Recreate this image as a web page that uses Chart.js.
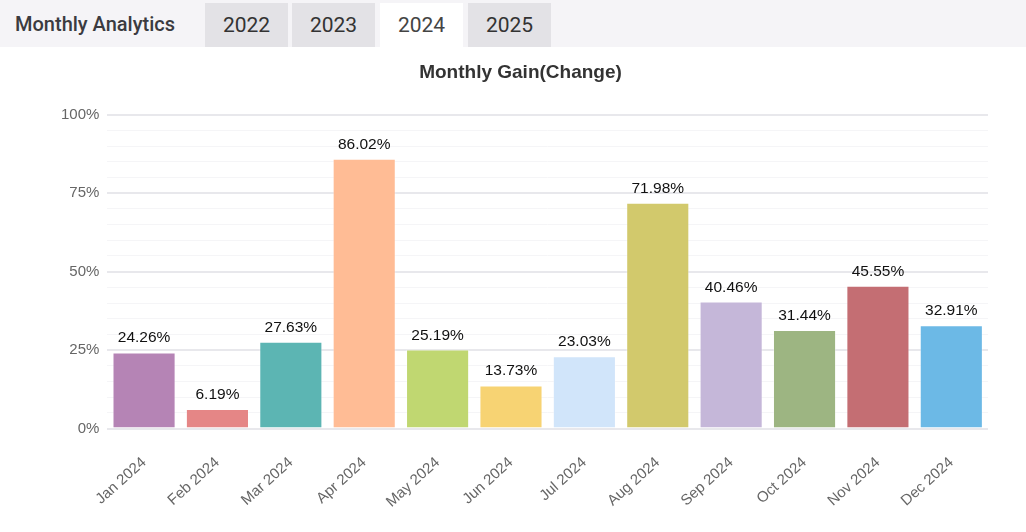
<!DOCTYPE html>
<html>
<head>
<meta charset="utf-8">
<script src="https://cdn.jsdelivr.net/npm/chart.js@4.4.1/dist/chart.umd.min.js"></script>
<style>
  body { margin: 0; background: #fff; font-family: Roboto, "Liberation Sans", Arial, sans-serif; }
  .head { height: 47px; background: #f5f4f7; position: relative; }
  .head .name { position: absolute; left: 15px; top: 12px; font-size: 20px; font-weight: 500; color: #3b3b40; }
  .tab { position: absolute; top: 3px; height: 44px; width: 83px; background: #e3e2e6;
         font-size: 21px; color: #333; text-align: center; line-height: 44px; }
  .tab.on { background: #fff; color: #444; }
  .box { position: relative; width: 1026px; height: 485px; }
</style>
</head>
<body>
<div class="head">
  <div class="name">Monthly Analytics</div>
  <div class="tab" style="left:205px">2022</div>
  <div class="tab" style="left:292px">2023</div>
  <div class="tab on" style="left:380px">2024</div>
  <div class="tab" style="left:468px">2025</div>
</div>
<div class="box"><canvas id="chart"></canvas></div>
<script>
const months = ['Jan 2024', 'Feb 2024', 'Mar 2024', 'Apr 2024', 'May 2024', 'Jun 2024',
  'Jul 2024', 'Aug 2024', 'Sep 2024', 'Oct 2024', 'Nov 2024', 'Dec 2024'];
const gains = [24.26, 6.19, 27.63, 86.02, 25.19, 13.73, 23.03, 71.98, 40.46, 31.44, 45.55, 32.91];
const barColors = ['#b584b5', '#e58686', '#5cb5b3', '#ffbc95', '#c0d771', '#f7d373',
  '#d1e5fa', '#d2c96c', '#c5b7d9', '#9db582', '#c46e73', '#6cb9e6'];

const fontFamily = '"Liberation Sans", Arial, sans-serif';

// labels above each bar
const valueLabels = {
  id: 'valueLabels',
  afterDatasetsDraw(chart) {
    const ctx = chart.ctx;
    const meta = chart.getDatasetMeta(0);
    ctx.save();
    ctx.font = '15.5px ' + fontFamily;
    ctx.fillStyle = '#111';
    ctx.textAlign = 'center';
    ctx.textBaseline = 'alphabetic';
    meta.data.forEach((bar, i) => {
      ctx.fillText(gains[i].toFixed(2) + '%', bar.x, bar.y - 10);
    });
    ctx.restore();
  }
};

new Chart(document.getElementById('chart'), {
  type: 'bar',
  data: {
    labels: months,
    datasets: [{
      data: gains,
      backgroundColor: barColors,
      borderColor: 'rgba(255,255,255,0.35)',
      borderWidth: 1,
      barPercentage: 0.86,
      categoryPercentage: 1
    }]
  },
  options: {
    responsive: true,
    maintainAspectRatio: false,
    animation: false,
    layout: { padding: { left: 53, right: 38, top: 8, bottom: 4 } },
    plugins: {
      legend: { display: false },
      tooltip: { enabled: false },
      title: {
        display: true,
        text: 'Monthly Gain(Change)',
        color: '#333',
        font: { family: fontFamily, size: 19, weight: 'bold' },
        padding: { top: 6, bottom: 31 }
      }
    },
    scales: {
      x: {
        grid: { display: false },
        border: { display: false },
        ticks: {
          color: '#666',
          font: { family: fontFamily, size: 15 },
          padding: 17,
          maxRotation: 42,
          minRotation: 42
        }
      },
      y: {
        min: 0,
        max: 100,
        border: { display: false },
        grid: {
          color: ctx => (ctx.tick.value % 25 === 0 ? '#e8e8ec' : '#f5f5f7'),
          lineWidth: ctx => (ctx.tick.value % 25 === 0 ? 2 : 1),
          drawTicks: false
        },
        ticks: {
          stepSize: 5,
          autoSkip: false,
          padding: 8,
          color: '#666',
          font: { family: fontFamily, size: 15 },
          callback: v => (v % 25 === 0 ? v + '%' : '')
        }
      }
    }
  },
  plugins: [valueLabels]
});
</script>
</body>
</html>
